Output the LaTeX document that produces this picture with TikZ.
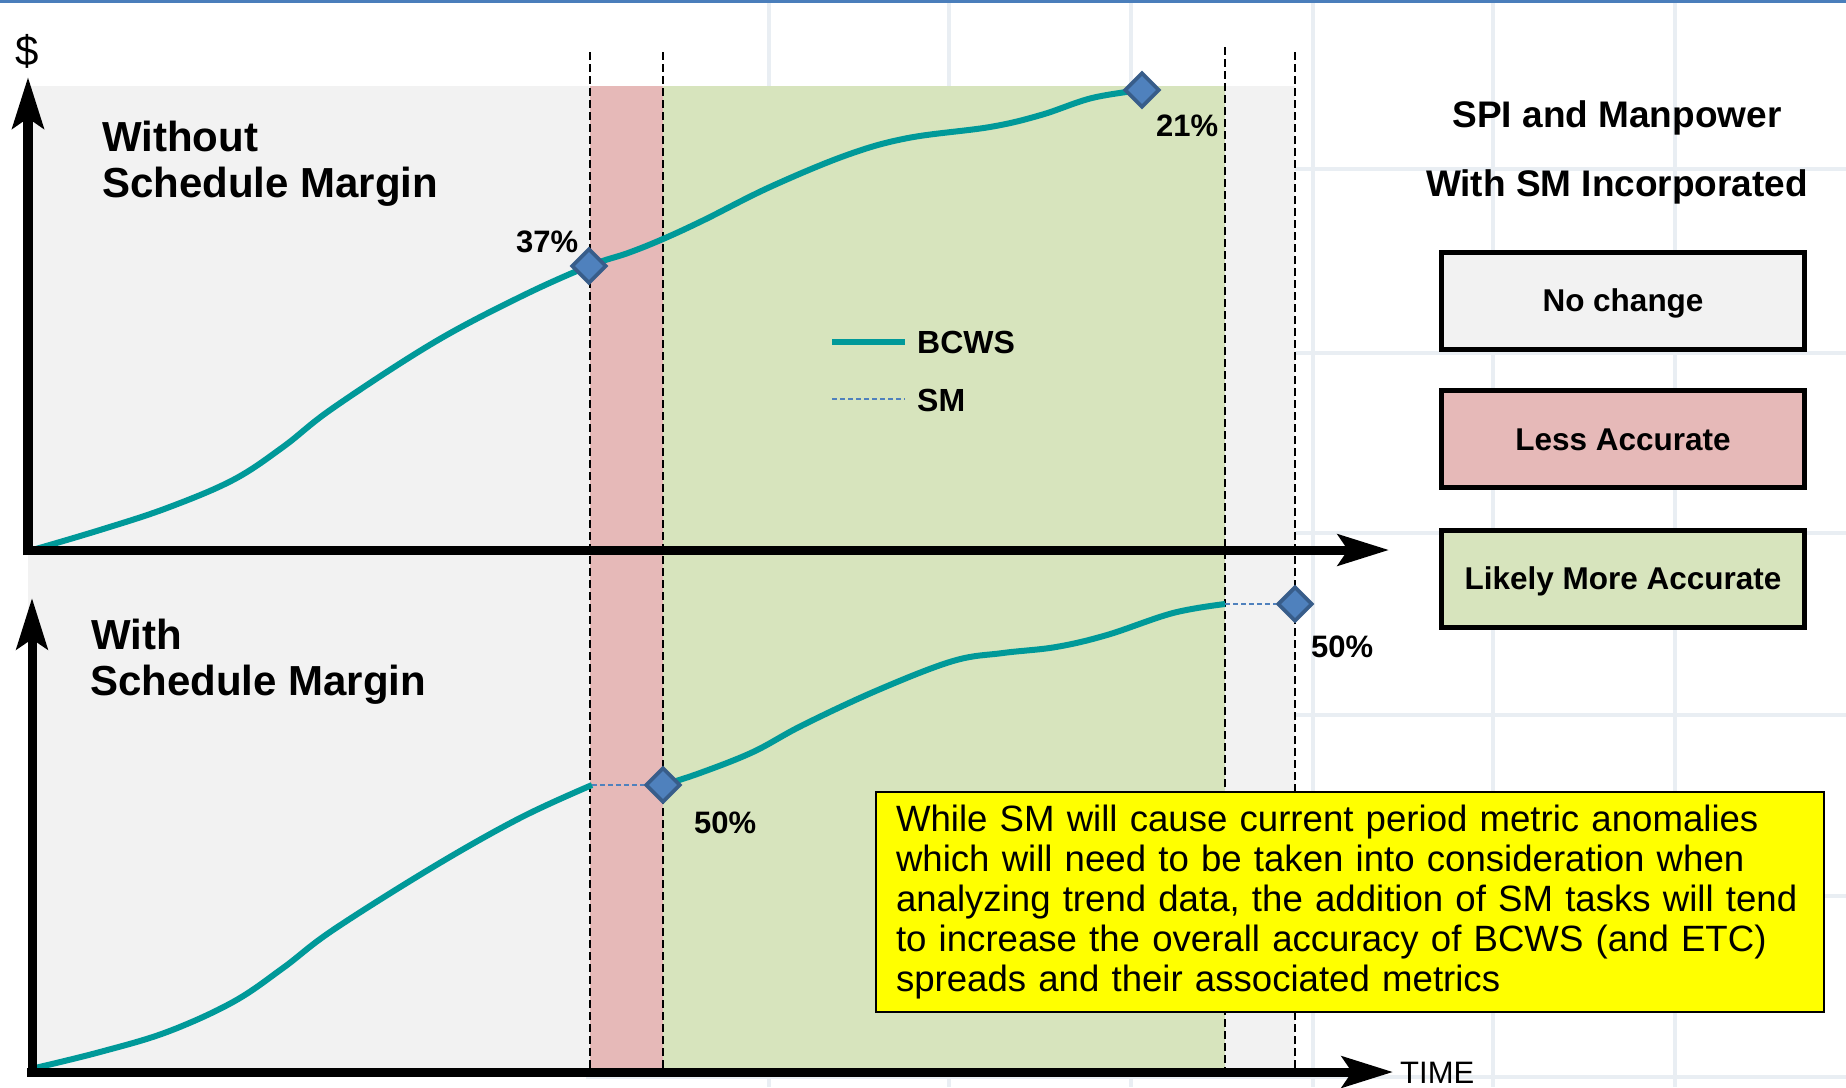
\documentclass[tikz,border=0pt]{standalone}
\usepackage{fontspec}
\setmainfont{Liberation Sans}
\usetikzlibrary{arrows.meta,shapes.geometric}
\definecolor{panelgray}{HTML}{F2F2F2}
\definecolor{bandred}{HTML}{E6B9B8}
\definecolor{bandgreen}{HTML}{D7E4BD}
\definecolor{diafill}{HTML}{4F81BD}
\definecolor{diaborder}{HTML}{385D8A}
\definecolor{bcwsteal}{HTML}{009999}
\definecolor{topblue}{HTML}{4A7EBB}
\definecolor{gridc}{HTML}{E9EEF3}
\definecolor{noteyellow}{HTML}{FFFF00}
\begin{document}
\begin{tikzpicture}[x=1pt,y=-1pt,
  gridline/.style={line width=4pt, draw=gridc},
  axisline/.style={line width=9pt, -{Stealth[length=51pt,width=31pt,inset=10pt]}},
  bcws/.style={line width=6pt, draw=bcwsteal, line join=round},
  smline/.style={line width=2pt, draw=diafill, dash pattern=on 5pt off 3pt},
  vdash/.style={line width=2pt, draw=black, dash pattern=on 8pt off 4pt},
  dia/.style={diamond, aspect=1, draw=diaborder, fill=diafill, line width=3.8pt, minimum width=35pt, minimum height=35pt, inner sep=0pt},
  pct/.style={font=\fontsize{31pt}{36pt}\selectfont\bfseries, inner sep=0pt, anchor=base west},
  ttl/.style={font=\fontsize{42pt}{46pt}\selectfont\bfseries, inner sep=0pt, anchor=base west},
  headtxt/.style={font=\fontsize{37pt}{42pt}\selectfont\bfseries, inner sep=0pt, anchor=base},
  keybox/.style={draw=black, line width=5pt, minimum width=363pt, minimum height=97pt, inner sep=0pt, text height=22.6pt, text depth=0pt, font=\fontsize{31.5pt}{36pt}\selectfont\bfseries},
  legtxt/.style={font=\fontsize{32pt}{36pt}\selectfont\bfseries, inner sep=0pt, anchor=base west},
  notebox/.style={draw=black, line width=2pt, fill=noteyellow, minimum height=220pt, text width=908pt, inner xsep=20pt, inner ysep=0pt, align=left, font=\fontsize{36.6pt}{40pt}\selectfont}
]
\path[use as bounding box] (0,0) rectangle (1846,1087);
\fill[white] (0,0) rectangle (1846,1087);
% faint background grid
\foreach \gx in {769,949,1131,1313,1493,1675} \draw[gridline] (\gx,0) -- (\gx,1087);
\foreach \gy in {169,353,533,715,896,1077} \draw[gridline] (586,\gy) -- (1846,\gy);
% top bar
\fill[topblue] (0,0) rectangle (1846,3);
% panels and bands
\fill[panelgray] (28,86) rectangle (1295,1068);
\fill[bandred] (590,86) rectangle (663,1068);
\fill[bandgreen] (663,86) rectangle (1225,1068);
% dashed verticals
\draw[vdash] (590,52) -- (590,1068);
\draw[vdash] (663,52) -- (663,1068);
\draw[vdash] (1225,47) -- (1225,1068);
\draw[vdash] (1295,52) -- (1295,1068);
% curves
\draw[bcws] plot[smooth, tension=0.6] coordinates {(29,551) (100,530) (167,508) (233,480) (283,447) (333,408) (433,343) (520,297) (589,266) (628,253) (663,239) (704,220) (770,187) (847,155) (908,138) (990,127) (1041,115) (1092,98) (1142,90)};
\draw[bcws] plot[smooth, tension=0.6] coordinates {(35,1068) (100,1052) (167,1032) (233,1002) (283,968) (333,930) (433,867) (520,818) (592,785)};
\draw[bcws] plot[smooth, tension=0.6] coordinates {(663,785) (700,773) (753,752) (803,725) (878,690) (953,661) (1003,653) (1056,647) (1107,635) (1173,613) (1225,604)};
\coordinate (e1) at (592,785);
\coordinate (e2) at (1225,604);
% axes
\draw[axisline, line width=10pt] (28,555) -- (28,77);
\draw[axisline] (23,550) -- (1389,550);
\draw[axisline] (32,1076) -- (32,598);
\draw[axisline] (27,1072) -- (1393,1072);
% diamonds
\node[dia] (d1) at (589,266) {};
\node[dia] (d2) at (1142,90) {};
\node[dia] (d3) at (663,785) {};
\node[dia] (d4) at (1295,604) {};
\draw[smline] (e1) -- (d3);
\draw[smline] (e2) -- (d4);
% labels
\node[pct] (p1) at (516,252) {37\%};
\node[pct] (p2) at (1156,136) {21\%};
\node[pct] (p3) at (694,833) {50\%};
\node[pct] (p4) at (1311,657) {50\%};
\node[ttl] (t1) at (102,151) {Without};
\node[ttl] (t2) at (102,197) {Schedule Margin};
\node[ttl] (t3) at (91,649) {With};
\node[ttl] (t4) at (90,695) {Schedule Margin};
\node[inner sep=0pt, font=\fontsize{42pt}{46pt}\selectfont] (dollar) at (27,51) {\$};
\node[inner sep=0pt, anchor=base west, font=\fontsize{31pt}{36pt}\selectfont] (time) at (1400,1083) {TIME};
% legend
\coordinate (lb1) at (832,342); \coordinate (lb2) at (905,342);
\coordinate (ls1) at (832,399); \coordinate (ls2) at (905,399);
\draw[bcws] (lb1) -- (lb2);
\draw[smline] (ls1) -- (ls2);
\node[legtxt] (lbt) at (917,353) {BCWS};
\node[legtxt] (lst) at (917,411) {SM};
% right key
\node[headtxt] (h1) at (1617,127) {SPI and Manpower};
\node[headtxt] (h2) at (1617,196) {With SM Incorporated};
\node[keybox, fill=panelgray] (k1) at (1623,300.5) {No change};
\node[keybox, fill=bandred] (k2) at (1623,439) {Less Accurate};
\node[keybox, fill=bandgreen] (k3) at (1623,578.5) {Likely More Accurate};
% note
\node[notebox] (note) at (1350,902) {\mbox{While SM will cause current period metric anomalies}\\\mbox{which will need to be taken into consideration when}\\\mbox{analyzing trend data, the addition of SM tasks will tend}\\\mbox{to increase the overall accuracy of BCWS (and ETC)}\\\mbox{spreads and their associated metrics}};
\end{tikzpicture}
\end{document}
